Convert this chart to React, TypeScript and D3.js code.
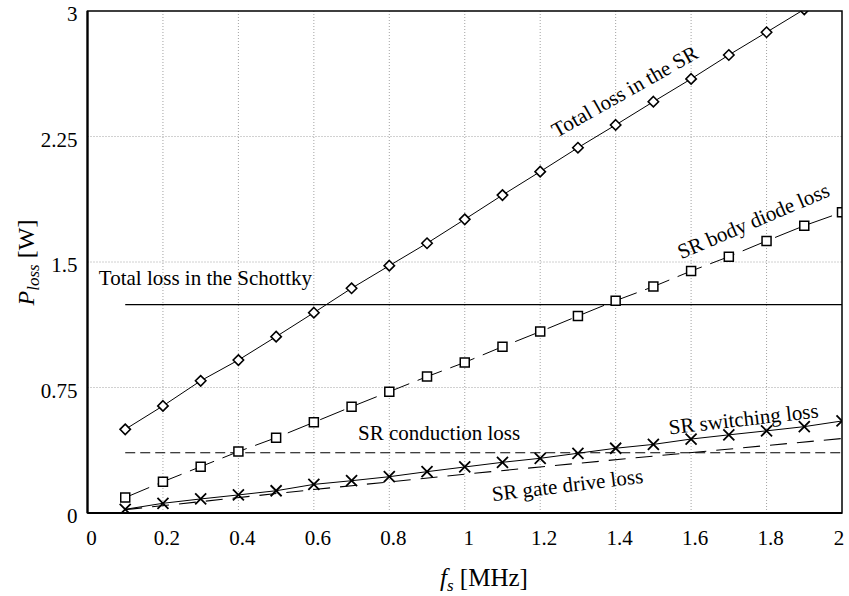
import React from "react";
import * as d3 from "d3";

// ---------- data ----------
const freqs = [0.1, 0.2, 0.3, 0.4, 0.5, 0.6, 0.7, 0.8, 0.9, 1.0, 1.1, 1.2, 1.3, 1.4, 1.5, 1.6, 1.7, 1.8, 1.9, 2.0];
const totalSR = [0.5, 0.64, 0.79, 0.914, 1.054, 1.197, 1.343, 1.478, 1.612, 1.755, 1.9, 2.04, 2.183, 2.319, 2.458, 2.594, 2.737, 2.873, 3.01];
const bodyDiode = [0.092, 0.187, 0.277, 0.367, 0.45, 0.542, 0.635, 0.725, 0.815, 0.9, 0.994, 1.084, 1.177, 1.269, 1.353, 1.446, 1.532, 1.626, 1.717, 1.797];
const switching = [0.022, 0.058, 0.084, 0.108, 0.133, 0.171, 0.193, 0.217, 0.247, 0.275, 0.303, 0.327, 0.357, 0.387, 0.41, 0.442, 0.467, 0.491, 0.516, 0.55];
const schottkyX = [0.1, 2.0];
const schottky = [1.245, 1.245];
const conductionX = [0.1, 2.0];
const conduction = [0.36, 0.36];
const gateX = [0.1, 0.6, 1.0, 1.5, 2.0];
const gate = [0.02, 0.14, 0.232, 0.34, 0.445];

const xTicks = [0, 0.2, 0.4, 0.6, 0.8, 1, 1.2, 1.4, 1.6, 1.8, 2];
const xTickLabels = ["0", "0.2", "0.4", "0.6", "0.8", "1", "1.2", "1.4", "1.6", "1.8", "2"];
const yTicks = [0, 0.75, 1.5, 2.25, 3];
const yTickLabels = ["0", "0.75", "1.5", "2.25", "3"];

const annotations = [
  { text: "Total loss in the SR", x: 1.424, y: 2.519, angle: -29.5, anchor: "middle" },
  { text: "SR body diode loss", x: 1.765, y: 1.745, angle: -23, anchor: "middle" },
  { text: "Total loss in the Schottky", x: 0.03, y: 1.363, angle: 0, anchor: "start" },
  { text: "SR conduction loss", x: 0.717, y: 0.436, angle: 0, anchor: "start" },
  { text: "SR switching loss", x: 1.739, y: 0.562, angle: -6.5, anchor: "middle" },
  { text: "SR gate drive loss", x: 1.272, y: 0.167, angle: -7, anchor: "middle" },
];

// ---------- layout ----------
const W = 849;
const H = 596;
const margin = { left: 87.5, right: 7, top: 11, bottom: 83 };
const FONT = "'Liberation Serif', 'Times New Roman', serif";

export default function App() {
  const x = d3.scaleLinear().domain([0, 2]).range([margin.left, W - margin.right]);
  const y = d3.scaleLinear().domain([0, 3]).range([H - margin.bottom, margin.top]);
  const line = d3
    .line<[number, number]>()
    .x((d) => x(d[0]))
    .y((d) => y(d[1]));

  const zip = (xs: number[], ys: number[]) => ys.map((v, i) => [xs[i], v] as [number, number]);
  const srPts = zip(freqs, totalSR);
  const bdPts = zip(freqs, bodyDiode);
  const swPts = zip(freqs, switching);

  const [x0, x1] = x.range();
  const [yb, yt] = y.range();

  const diamond = (cx: number, cy: number, r = 5.2) =>
    `M${cx},${cy - r}L${cx + r},${cy}L${cx},${cy + r}L${cx - r},${cy}Z`;
  const square = (cx: number, cy: number, r = 4.5) =>
    `M${cx - r},${cy - r}H${cx + r}V${cy + r}H${cx - r}Z`;
  const cross = (cx: number, cy: number, r = 5.5) =>
    `M${cx - r},${cy - r}L${cx + r},${cy + r}M${cx - r},${cy + r}L${cx + r},${cy - r}`;

  return (
    <svg
      width={W}
      height={H}
      style={{ position: "absolute", left: 0, top: 0, background: "#fff" }}
      fontFamily={FONT}
    >
      <defs>
        <clipPath id="plot">
          <rect x={x0} y={yt} width={x1 - x0} height={yb - yt} />
        </clipPath>
      </defs>
      <rect x={0} y={0} width={W} height={H} fill="#fff" />

      {/* grid */}
      <g stroke="#8a8a8a" strokeWidth={0.8} strokeDasharray="1,2">
        {xTicks
          .filter((t) => t > 0 && t < 2)
          .map((t) => (
            <line key={"gx" + t} x1={x(t)} x2={x(t)} y1={yt} y2={yb} />
          ))}
        {yTicks
          .filter((t) => t > 0 && t < 3)
          .map((t) => (
            <line key={"gy" + t} x1={x0} x2={x1} y1={y(t)} y2={y(t)} />
          ))}
      </g>

      <g clipPath="url(#plot)" fill="none" stroke="#000">
        {/* Schottky */}
        <path d={line(zip(schottkyX, schottky)) || ""} strokeWidth={1.4} />
        {/* conduction */}
        <path d={line(zip(conductionX, conduction)) || ""} strokeWidth={1.2} strokeDasharray="10,5" />
        {/* gate drive */}
        <path d={line(zip(gateX, gate)) || ""} strokeWidth={1.1} strokeDasharray="17,10" />
        {/* total SR */}
        <path d={line(srPts) || ""} strokeWidth={1} />
        {srPts.map((p, i) => (
          <path key={"d" + i} d={diamond(x(p[0]), y(p[1]))} fill="#fff" strokeWidth={1.6} />
        ))}
        {/* body diode */}
        <path d={line(bdPts) || ""} strokeWidth={1} strokeDasharray="26,9" />
        {bdPts.map((p, i) => (
          <path key={"s" + i} d={square(x(p[0]), y(p[1]))} fill="#fff" strokeWidth={1.5} />
        ))}
        {/* switching */}
        <path d={line(swPts) || ""} strokeWidth={1} />
        {swPts.map((p, i) => (
          <path key={"x" + i} d={cross(x(p[0]), y(p[1]))} strokeWidth={1.8} />
        ))}
      </g>

      {/* axes box */}
      <rect x={x0} y={yt} width={x1 - x0} height={yb - yt} fill="none" stroke="#000" strokeWidth={1.5} />
      <line x1={x0} x2={x0} y1={yt} y2={yb} stroke="#000" strokeWidth={2.2} />
      <line x1={x0} x2={x1} y1={yb} y2={yb} stroke="#000" strokeWidth={2.2} />

      {/* tick labels */}
      <g fontSize={21} fill="#000">
        {xTicks.map((t, i) => (
          <text key={"xt" + i} x={Math.min(x(t) + 4, W - 10)} y={yb + 32} textAnchor="middle">
            {xTickLabels[i]}
          </text>
        ))}
        {yTicks.map((t, i) => (
          <text key={"yt" + i} x={x0 - 10} y={y(t) + 10} textAnchor="end">
            {yTickLabels[i]}
          </text>
        ))}
      </g>

      {/* annotations */}
      <g fontSize={21} fill="#000">
        {annotations.map((a, i) => {
          const ax = x(a.x);
          const ay = y(a.y);
          return (
            <text
              key={"an" + i}
              x={ax}
              y={ay}
              textAnchor={a.anchor}
              dominantBaseline={a.anchor === "middle" ? "central" : "auto"}
              transform={a.angle ? `rotate(${a.angle},${ax},${ay})` : undefined}
            >
              {a.text}
            </text>
          );
        })}
      </g>

      {/* axis labels */}
      <text x={440} y={586} fontSize={25} fill="#000">
        <tspan fontStyle="italic">f</tspan>
        <tspan fontStyle="italic" fontSize={17} dy={5}>s</tspan>
        <tspan dy={-5}> [MHz]</tspan>
      </text>
      <text
        x={34}
        y={262.5}
        fontSize={24}
        fill="#000"
        textAnchor="middle"
        transform={`rotate(-90,34,262.5)`}
      >
        <tspan fontStyle="italic">P</tspan>
        <tspan fontStyle="italic" fontSize={17} dy={5}>loss</tspan>
        <tspan dy={-5}> [W]</tspan>
      </text>
    </svg>
  );
}
